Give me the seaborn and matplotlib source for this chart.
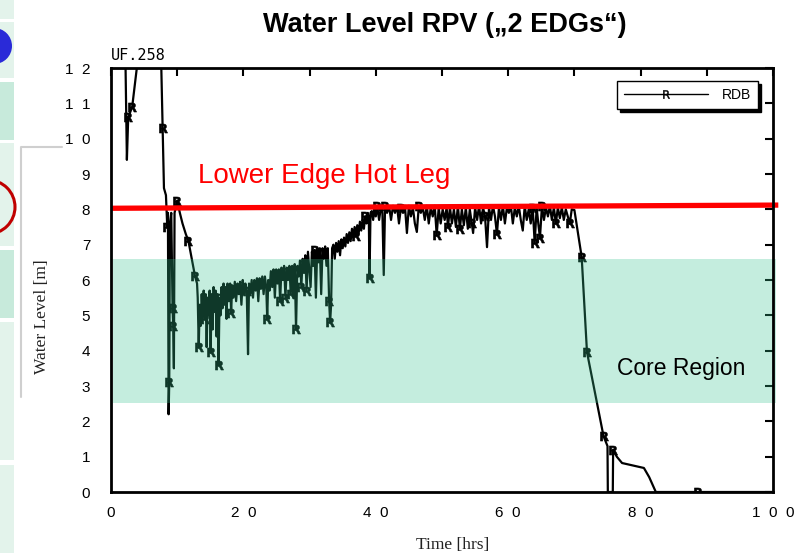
import matplotlib
matplotlib.use("Agg")
import matplotlib.pyplot as plt
import pandas as pd
import seaborn as sns
from matplotlib.lines import Line2D
from matplotlib.patches import Rectangle, Ellipse

# ---------------- data (time [h], water level [m]) ----------------
phase_initial = [(0.0, 12.0), (2.2, 12.0), (2.4, 9.4), (2.6, 10.6), (3.2, 10.9), (3.9, 12.0),
                 (7.6, 12.0), (7.8, 10.3), (8.0, 8.6), (8.3, 8.4)]
phase_dip = [(8.5, 7.5), (8.6, 7.9), (8.7, 2.2), (8.8, 3.1), (8.9, 7.6), (9.1, 7.9), (9.3, 5.2),
             (9.4, 4.7), (9.5, 3.5), (9.6, 7.9), (10.0, 8.25), (10.4, 7.9), (10.8, 7.6), (11.3, 7.3),
             (11.7, 7.1), (12.2, 6.6), (12.7, 6.1), (13.0, 5.9)]
phase_lowband = [(13.1, 5.5), (13.25, 4.1), (13.4, 5.3), (13.55, 4.7), (13.7, 5.6), (13.85, 5.0),
                 (14.0, 5.7), (14.15, 4.9), (14.3, 5.6), (14.45, 4.1), (14.6, 5.5), (14.75, 5.0),
                 (14.9, 5.7), (15.05, 3.95), (15.2, 5.6), (15.35, 4.6), (15.5, 5.8), (15.65, 5.1),
                 (15.8, 5.7), (15.95, 4.4), (16.1, 5.6), (16.25, 3.6), (16.4, 5.5), (16.55, 5.0),
                 (16.7, 5.8), (16.85, 5.2), (17.0, 5.9), (17.15, 5.3), (17.3, 5.8), (17.45, 4.9),
                 (17.6, 5.9), (17.8, 5.4), (18.0, 5.9), (18.15, 5.07), (18.3, 5.85), (18.5, 5.5),
                 (18.7, 5.95), (18.9, 5.4), (19.1, 5.9), (19.3, 5.6), (19.5, 5.95), (19.7, 5.3),
                 (19.9, 6.0), (20.1, 5.6), (20.3, 5.9), (20.5, 5.7), (20.7, 3.9), (20.85, 5.9),
                 (21.05, 5.6), (21.25, 6.0), (21.45, 5.5), (21.65, 6.0), (21.85, 5.7), (22.05, 6.05),
                 (22.25, 5.4), (22.45, 6.05), (22.65, 5.75), (22.85, 6.1), (23.05, 5.6), (23.25, 6.1),
                 (23.45, 5.8), (23.6, 4.9), (23.75, 6.0), (23.95, 5.7), (24.15, 6.25), (24.35, 5.8),
                 (24.55, 6.3), (24.75, 5.5), (24.95, 6.3), (25.15, 5.9), (25.35, 6.3), (25.55, 5.4),
                 (25.75, 6.35), (25.95, 6.0), (26.15, 6.4), (26.35, 5.5), (26.55, 6.35), (26.75, 6.0),
                 (26.95, 6.4), (27.15, 5.6), (27.35, 6.4), (27.55, 5.5), (27.75, 6.45), (27.95, 4.6),
                 (28.15, 6.4), (28.35, 6.1), (28.55, 6.55), (28.75, 5.8), (28.95, 6.6), (29.15, 6.2),
                 (29.35, 6.7), (29.55, 5.7), (29.75, 6.8), (29.95, 6.3), (30.15, 5.8), (30.35, 6.8),
                 (30.55, 6.4), (30.75, 6.85), (30.95, 5.5), (31.15, 6.9), (31.35, 6.5), (31.55, 6.9),
                 (31.75, 5.6), (31.95, 6.9), (32.15, 6.6), (32.35, 6.95), (32.55, 6.4), (32.75, 6.9),
                 (32.95, 5.4), (33.1, 4.8), (33.25, 5.3), (33.4, 6.9)]
phase_rise = [(33.6, 7.0), (33.8, 6.6), (34.0, 7.05), (34.2, 6.8), (34.4, 7.1), (34.6, 6.7),
              (34.8, 7.15), (35.0, 6.9), (35.2, 7.2), (35.4, 6.95), (35.6, 7.3), (35.8, 7.05),
              (36.0, 7.35), (36.2, 7.1), (36.4, 7.45), (36.6, 7.2), (36.8, 7.5), (37.0, 7.25),
              (37.2, 7.55), (37.4, 7.3), (37.6, 7.65), (37.8, 7.4), (38.0, 7.7), (38.2, 7.45),
              (38.4, 7.8), (38.6, 7.6), (38.8, 7.9), (38.95, 7.7), (39.05, 6.05), (39.2, 7.9),
              (39.4, 7.95), (39.6, 7.7), (39.8, 8.05), (40.0, 7.8), (40.2, 8.1), (40.5, 7.7),
              (40.8, 8.1), (41.0, 7.9), (41.2, 6.14), (41.4, 8.1), (41.7, 7.9)]
phase_plateau = [(42.0, 8.1), (42.3, 7.7), (42.6, 8.1), (42.9, 7.9), (43.2, 8.1), (43.5, 7.6),
                 (43.8, 8.05), (44.1, 7.9), (44.4, 8.1), (44.7, 7.33), (45.0, 8.1), (45.3, 7.8),
                 (45.6, 8.05), (45.9, 7.6), (46.2, 7.36), (46.5, 8.1), (46.8, 7.9), (47.1, 8.05),
                 (47.4, 7.7), (47.7, 8.1), (48.0, 7.6), (48.3, 8.05), (48.6, 7.8), (48.9, 8.1),
                 (49.2, 7.27), (49.5, 8.05), (49.8, 7.6), (50.1, 8.0), (50.4, 7.7), (50.7, 8.05),
                 (50.9, 7.5), (51.2, 8.05), (51.5, 7.6), (51.8, 8.0), (52.1, 7.5), (52.4, 8.1),
                 (52.7, 7.45), (53.0, 8.0), (53.3, 7.55), (53.6, 8.05), (53.9, 7.45), (54.2, 8.0),
                 (54.5, 7.6), (54.7, 7.33), (55.0, 8.05), (55.3, 7.7), (55.6, 8.1), (55.9, 7.6),
                 (56.2, 8.05), (56.5, 7.8), (56.8, 6.93), (57.1, 8.05), (57.4, 7.7), (57.7, 8.1),
                 (58.0, 7.8), (58.3, 7.3), (58.6, 8.05), (58.9, 7.7), (59.2, 8.1), (59.5, 7.6),
                 (59.8, 8.05), (60.1, 7.9), (60.4, 8.1), (60.7, 7.6), (61.0, 8.05), (61.3, 7.8),
                 (61.6, 8.1), (61.9, 7.7), (62.2, 7.4), (62.5, 8.1), (62.8, 7.7), (63.1, 8.0),
                 (63.4, 7.6), (63.7, 8.05), (64.0, 7.05), (64.3, 8.05), (64.6, 7.5), (64.8, 7.2),
                 (65.1, 8.1), (65.4, 7.7), (65.7, 8.05), (66.0, 7.8), (66.3, 8.1), (66.6, 7.7),
                 (66.9, 8.05), (67.2, 7.6), (67.5, 8.05), (67.8, 7.75), (68.1, 8.05), (68.4, 7.7),
                 (68.7, 8.0), (69.0, 7.8), (69.3, 7.6), (69.6, 8.0)]
phase_dryout = [(70.0, 7.98), (71.1, 6.65), (71.9, 3.96), (74.4, 1.58), (75.0, 1.3), (75.05, 0.0),
                (75.8, 0.0), (75.85, 1.2), (76.4, 1.0), (77.2, 0.82), (80.5, 0.68), (81.3, 0.42),
                (82.3, 0.0), (88.7, 0.0), (100.0, 0.0)]

# times at which the plotting program drew its "R" symbols
r_marker_times = [2.6, 3.2, 7.8, 8.5, 8.8, 9.3, 9.4, 10.0, 11.7, 12.7, 13.25, 14.15, 15.05,
                  16.25, 16.4, 18.15, 20.5, 23.6, 25.55, 26.35, 27.15, 27.95, 28.75, 29.55, 30.75,
                  32.95, 33.1, 37.0, 38.4, 39.05, 40.2, 41.4, 43.8, 46.5, 49.2, 50.9, 52.7, 54.5,
                  56.5, 58.3, 63.7, 64.0, 64.8, 65.1, 67.2, 69.3, 71.1, 71.9, 74.4, 75.85, 88.7]

hot_leg_x = [0.0, 100.8]
hot_leg_y = [8.03, 8.12]
core_bottom, core_top = 2.52, 6.6

x_ticks = [0, 10, 20, 30, 40, 50, 60, 70, 80, 90, 100]
x_tick_labels = ["0", "", "2  0", "", "4  0", "", "6  0", "", "8  0", "", "1  0  0"]
y_ticks = list(range(0, 13))
y_tick_labels = ["0", "1", "2", "3", "4", "5", "6", "7", "8", "9", "1  0", "1  1", "1  2"]

rows = phase_initial + phase_dip + phase_lowband + phase_rise + phase_plateau + phase_dryout
df = pd.DataFrame(rows, columns=["time", "level"])
marker_idx = sorted({int((df["time"] - t).abs().idxmin()) for t in r_marker_times})

# ---------------- figure ----------------
sns.set_style("white")
plt.rcParams["font.family"] = ["Liberation Sans", "DejaVu Sans"]
plt.rcParams["text.color"] = "black"
plt.rcParams["axes.labelcolor"] = "black"
plt.rcParams["xtick.color"] = "black"
plt.rcParams["ytick.color"] = "black"

W, H = 795, 553
fig = plt.figure(figsize=(W / 100, H / 100), dpi=100)


def fx(x):
    return x / W


def fy(y):
    return 1 - y / H


# slide decorations on the left edge
strip = [(0, 19, "#e3f3eb"), (22, 78, "#e3f3eb"), (82, 140, "#c7eadb"), (143, 246, "#e3f3eb"),
         (250, 318, "#c7eadb"), (322, 460, "#e3f3eb"), (465, 553, "#e3f3eb")]
for y0, y1, c in strip:
    fig.add_artist(Rectangle((0, fy(y1)), fx(14), (y1 - y0) / H, transform=fig.transFigure,
                             color=c, lw=0))
fig.add_artist(Ellipse((fx(-6), fy(46)), 36 / W, 36 / H, transform=fig.transFigure,
                       color="#2a2ad8", lw=0))
fig.add_artist(Ellipse((fx(-12), fy(207)), 54 / W, 54 / H, transform=fig.transFigure,
                       facecolor="none", edgecolor="#c00000", lw=2.2))
fig.add_artist(Line2D([fx(21), fx(21), fx(62)], [fy(397), fy(147), fy(147)],
                      transform=fig.transFigure, color="#cfcfcf", lw=1.5))

ax = fig.add_axes([fx(111), fy(492), 662 / W, 424 / H])

sns.lineplot(data=df, x="time", y="level", estimator=None, sort=False, color="black",
             lw=1.6, ax=ax, legend=False)
trace = ax.lines[0]
trace.set_marker("$\\mathbf{R}$")
trace.set_markevery(marker_idx)
trace.set_markersize(6.5)
trace.set_markerfacecolor("black")
trace.set_markeredgecolor("black")
trace.set_markeredgewidth(0.4)
trace.set_zorder(2)

band = ax.axhspan(core_bottom, core_top, xmin=0.003, xmax=1.004, color="#36c48f", alpha=0.29,
                  lw=0, zorder=3)
band.set_clip_on(False)

ax.plot(hot_leg_x, hot_leg_y, color="#ff0000", lw=3.8, clip_on=False, zorder=4,
        solid_capstyle="butt")

ax.text(13.2, 8.95, "Lower Edge Hot Leg", color="#ff0000", fontsize=20, va="center", ha="left",
        zorder=5)
ax.text(76.4, 3.5, "Core Region", color="black", fontsize=16.5, va="center", ha="left", zorder=5)

ax.set_xlim(0, 100)
ax.set_ylim(0, 12)
ax.set_xticks(x_ticks)
ax.set_xticklabels(x_tick_labels)
ax.set_yticks(y_ticks)
ax.set_yticklabels(y_tick_labels)
ax.set_xlabel("")
ax.set_ylabel("")
ax.tick_params(direction="in", length=6, width=1.5, top=True, right=True, labelsize=11,
               colors="black")
ax.tick_params(axis="x", pad=10)
ax.tick_params(axis="y", pad=15)
for s in ax.spines.values():
    s.set_linewidth(2)
    s.set_color("black")
    s.set_zorder(6)

handle = Line2D([], [], color="black", lw=1, marker="$\\mathrm{R}$", markersize=6,
                markeredgewidth=0.3)
leg = ax.legend([handle], ["RDB"], loc="upper right", bbox_to_anchor=(0.977, 0.969),
                frameon=True, fancybox=False, shadow={"color": "black", "alpha": 1},
                edgecolor="black", handlelength=6.0, numpoints=1, fontsize=10, borderpad=0.5,
                framealpha=1, handletextpad=1.0, borderaxespad=0)
leg.get_frame().set_linewidth(1)
leg.set_zorder(7)

fig.text(fx(445), fy(25), "Water Level RPV (\u201e2 EDGs\u201c)", ha="center", va="center",
         fontsize=19.5, fontweight="bold", color="black")
fig.text(fx(111), fy(55), "UF.258", ha="left", va="center", fontsize=11,
         family=["DejaVu Sans Mono"], color="black")
fig.text(fx(453), fy(545), "Time [hrs]", ha="center", va="center", fontsize=12.5,
         family=["Liberation Serif", "DejaVu Serif"], color="#222222")
fig.text(fx(42), fy(317), "Water Level [m]", ha="center", va="center", fontsize=12.5,
         rotation=90, family=["Liberation Serif", "DejaVu Serif"], color="#222222")

fig.savefig("out.png", dpi=100)
